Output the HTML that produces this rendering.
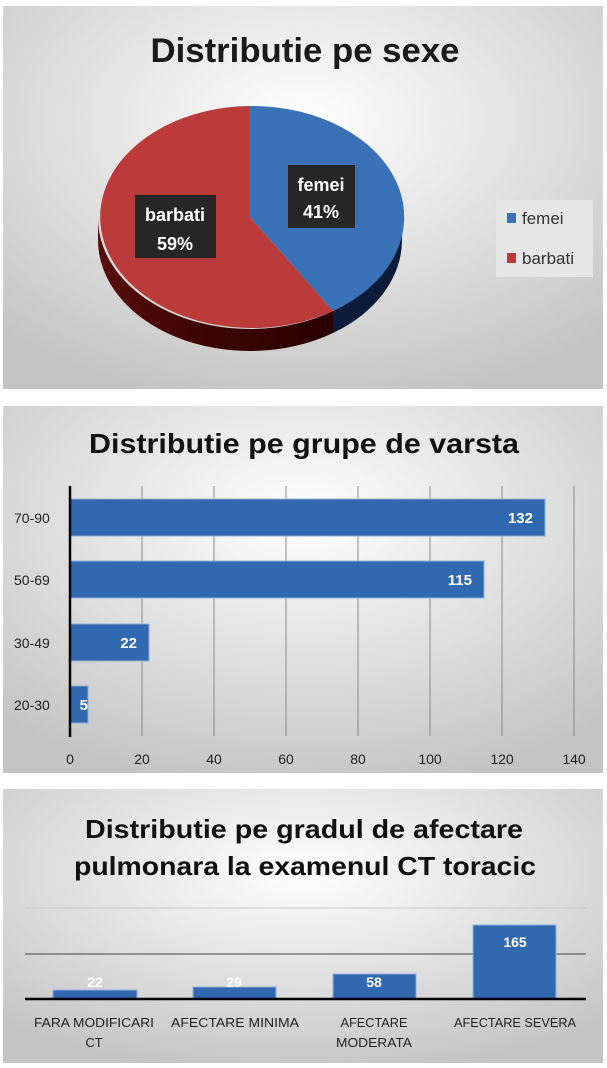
<!DOCTYPE html>
<html><head><meta charset="utf-8"><style>
html,body{margin:0;padding:0;background:#fff;}
svg{display:block;}
text{font-family:"Liberation Sans",sans-serif;}
</style></head><body>
<svg width="607" height="1068" viewBox="0 0 607 1068" xmlns="http://www.w3.org/2000/svg">
<defs>
<radialGradient id="bg" cx="50%" cy="30%" r="75%">
<stop offset="0" stop-color="#ffffff"/><stop offset="1" stop-color="#c4c4c4"/>
</radialGradient>
<linearGradient id="rs" x1="0" x2="1"><stop offset="0" stop-color="#5a0c0c"/><stop offset="0.4" stop-color="#3f0505"/><stop offset="1" stop-color="#2a0000"/></linearGradient>
</defs>
<rect x="0" y="0" width="607" height="1068" fill="#fff"/>
<!-- Panel 1 -->
<rect x="3" y="6" width="600" height="383" fill="url(#bg)"/>
<text x="305" y="62" font-size="34" font-weight="bold" text-anchor="middle" textLength="309" lengthAdjust="spacingAndGlyphs" fill="#1a1a1a">Distributie pe sexe</text>
<path d="M98,217 A152,111 0 0 0 333,311 L333,333 A152,111 0 0 1 98,239 Z" fill="url(#rs)"/>
<path d="M333,311 A152,111 0 0 0 402,217 L402,239 A152,111 0 0 1 333,333 Z" fill="#0b1c3a"/>
<path d="M250,217 L250,106 A152,111 0 0 1 333,311 Z" fill="#3a72b8"/>
<path d="M250,217 L333,311 A152,111 0 1 1 250,106 Z" fill="#bb3b3b"/>
<rect x="288" y="165" width="67" height="63" fill="#262626"/>
<text x="321" y="191" font-size="18" font-weight="bold" text-anchor="middle" fill="#fff">femei</text>
<text x="321" y="218" font-size="18" font-weight="bold" text-anchor="middle" fill="#fff">41%</text>
<rect x="135" y="195" width="81" height="63" fill="#262626"/>
<text x="175" y="221" font-size="18" font-weight="bold" text-anchor="middle" fill="#fff">barbati</text>
<text x="175" y="250" font-size="18" font-weight="bold" text-anchor="middle" fill="#fff">59%</text>
<rect x="496" y="200" width="97" height="77" fill="#e6e6e6"/>
<rect x="507" y="213" width="9" height="10" fill="#3a72b8"/>
<text x="522" y="224" font-size="17" fill="#333">femei</text>
<rect x="507" y="253" width="9" height="10" fill="#bb3b3b"/>
<text x="522" y="264" font-size="17" fill="#333">barbati</text>

<!-- Panel 2 -->
<rect x="3" y="406" width="600" height="367" fill="url(#bg)"/>
<text x="304" y="453" font-size="28" font-weight="bold" text-anchor="middle" textLength="430" lengthAdjust="spacingAndGlyphs" fill="#111">Distributie pe grupe de varsta</text>
<g stroke="#8a8a8a" stroke-width="1">
<line x1="142" y1="486" x2="142" y2="736"/><line x1="214" y1="486" x2="214" y2="736"/>
<line x1="286" y1="486" x2="286" y2="736"/><line x1="358" y1="486" x2="358" y2="736"/>
<line x1="430" y1="486" x2="430" y2="736"/><line x1="502" y1="486" x2="502" y2="736"/>
<line x1="574" y1="486" x2="574" y2="736"/>
</g>
<g fill="#3169b0" stroke="#8fb0dc" stroke-width="1">
<rect x="70" y="499" width="475" height="37"/>
<rect x="70" y="561" width="414" height="37"/>
<rect x="70" y="624" width="79" height="37"/>
<rect x="70" y="686" width="18" height="37"/>
</g>
<line x1="70" y1="486" x2="70" y2="737" stroke="#000" stroke-width="2.5"/>
<g font-size="15" font-weight="bold" fill="#fff" text-anchor="end">
<text x="533" y="523">132</text><text x="472" y="585">115</text><text x="137" y="648">22</text><text x="88" y="710">5</text>
</g>
<g font-size="14" fill="#222">
<text x="14" y="523">70-90</text><text x="14" y="585">50-69</text><text x="14" y="648">30-49</text><text x="14" y="710">20-30</text>
</g>
<g font-size="14" fill="#222" text-anchor="middle">
<text x="70" y="764">0</text><text x="142" y="764">20</text><text x="214" y="764">40</text><text x="286" y="764">60</text>
<text x="358" y="764">80</text><text x="430" y="764">100</text><text x="502" y="764">120</text><text x="574" y="764">140</text>
</g>

<!-- Panel 3 -->
<rect x="3" y="789" width="600" height="274" fill="url(#bg)"/>
<text x="304" y="838" font-size="26" font-weight="bold" text-anchor="middle" textLength="438" lengthAdjust="spacingAndGlyphs" fill="#111">Distributie pe gradul de afectare</text>
<text x="305" y="875" font-size="26" font-weight="bold" text-anchor="middle" textLength="462" lengthAdjust="spacingAndGlyphs" fill="#111">pulmonara la examenul CT toracic</text>
<line x1="25" y1="908" x2="586" y2="908" stroke="#c8c8c8" stroke-width="1"/>
<line x1="25" y1="954" x2="586" y2="954" stroke="#444" stroke-width="1"/>
<g fill="#3169b0" stroke="#8fb0dc" stroke-width="1">
<rect x="53" y="990" width="84" height="9"/>
<rect x="193" y="987" width="83" height="12"/>
<rect x="333" y="974" width="83" height="25"/>
<rect x="473" y="925" width="83" height="74"/>
</g>
<line x1="25" y1="999" x2="586" y2="999" stroke="#000" stroke-width="2.5"/>
<g font-size="14" font-weight="bold" fill="#fff" text-anchor="middle">
<text x="95" y="987">22</text><text x="234" y="987">29</text><text x="374" y="987">58</text><text x="515" y="947">165</text>
</g>
<g font-size="13" fill="#222" text-anchor="middle">
<text x="94" y="1027" textLength="120" lengthAdjust="spacingAndGlyphs">FARA MODIFICARI</text>
<text x="94" y="1047">CT</text>
<text x="235" y="1027" textLength="128" lengthAdjust="spacingAndGlyphs">AFECTARE MINIMA</text>
<text x="374" y="1027" textLength="67" lengthAdjust="spacingAndGlyphs">AFECTARE</text>
<text x="374" y="1047" textLength="76" lengthAdjust="spacingAndGlyphs">MODERATA</text>
<text x="515" y="1027" textLength="122" lengthAdjust="spacingAndGlyphs">AFECTARE SEVERA</text>
</g>
</svg>
</body></html>
